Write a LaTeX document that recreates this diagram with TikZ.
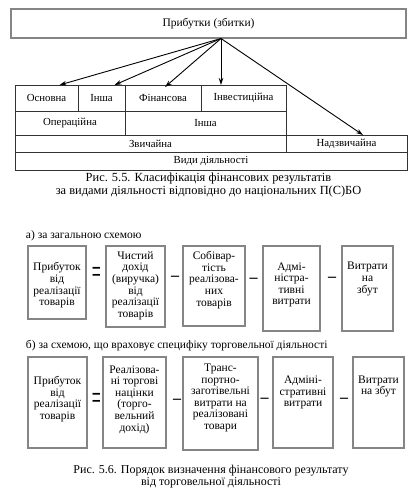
\documentclass[tikz,border=0pt]{standalone}
\usepackage{fontspec}
\setmainfont{Liberation Serif}
\usetikzlibrary{arrows.meta}
\definecolor{boxgray}{HTML}{858585}
\definecolor{linegray}{HTML}{333333}
\begin{document}
\begin{tikzpicture}[x=1pt,y=-1pt,
  every node/.style={inner sep=0pt, outer sep=0pt},
  topbox/.style={draw=boxgray, line width=1.8pt, rectangle},
  cell/.style={draw=linegray, line width=0.9pt, rectangle, font=\fontsize{10.8}{12}\selectfont},
  fbox/.style={draw=boxgray, line width=1.8pt, rectangle},
  btext/.style={align=center, font=\fontsize{11.5}{11.6}\selectfont},
  sign/.style={font=\fontsize{16}{16}\selectfont\bfseries},
  eqsign/.style={font=\fontsize{16}{16}\selectfont},
  captext/.style={align=center, font=\fontsize{12.4}{10.8}\selectfont},
  lbl/.style={anchor=west, font=\fontsize{11.5}{12}\selectfont},
  arr/.style={-{Stealth[length=7pt,width=4.5pt]}, line width=0.9pt, black}]
\useasboundingbox (0,0) rectangle (416,496);
% top box
\node[topbox, minimum width=395pt, minimum height=29pt, font=\fontsize{11.5}{12}\selectfont] (top) at (208.5,23.5) {Прибутки (збитки)};
\coordinate (src) at (221,38.5);
% table
\node[cell, minimum width=63pt, minimum height=26pt] (osn) at (46.5,98) {Основна};
\node[cell, minimum width=47pt, minimum height=26pt] (insh1) at (101.5,98) {Інша};
\node[cell, minimum width=76pt, minimum height=26pt] (fin) at (163,98) {Фінансова};
\node[cell, minimum width=85pt, minimum height=26pt] (inv) at (243.5,98) {Інвестиційна};
\node[cell, minimum width=110pt, minimum height=24pt] (oper) at (70,123) {Операційна};
\node[cell, minimum width=161pt, minimum height=24pt] (insh2) at (205.5,123) {Інша};
\node[cell, minimum width=271pt, minimum height=17pt] (zv) at (150.5,143.5) {Звичайна};
\node[cell, minimum width=121pt, minimum height=17pt] (nadz) at (346.5,143.5) {Надзвичайна};
\node[cell, minimum width=392pt, minimum height=18pt] (vydy) at (211,161) {Види діяльності};
% arrows
\draw[arr] (src) -- ([xshift=13pt]osn.north);
\draw[arr] (src) -- ([xshift=13pt]insh1.north);
\draw[arr] (src) -- ([xshift=2pt,yshift=-2pt]fin.north);
\draw[arr] (src) -- ([xshift=-22.5pt]inv.north);
\draw[arr] (src) -- ([xshift=16.5pt]nadz.north);
% caption 1
\node[captext] (cap1) at (208.5,185) {Рис. 5.5. Класифікація фінансових результатів\\за видами діяльності відповідно до національних П(С)БО};
% section a
\node[lbl] (la) at (26,235.5) {а) за загальною схемою};
\node[fbox, minimum width=58pt, minimum height=73pt] (a1) at (57,282.5) {};
\node[fbox, minimum width=59pt, minimum height=81pt] (a2) at (135.5,286.5) {};
\node[fbox, minimum width=62pt, minimum height=80pt] (a3) at (214,286) {};
\node[fbox, minimum width=57pt, minimum height=85pt] (a4) at (291.5,288.5) {};
\node[fbox, minimum width=51pt, minimum height=85pt] (a5) at (367.5,288.5) {};
\node[btext] (a1t) at (57,285.5) {Прибуток\\від\\реалізації\\товарів};
\node[btext] (a2t) at (135.5,285.5) {Чистий\\дохід\\(виручка)\\від\\реалізації\\товарів};
\node[btext] (a3t) at (214,280) {Собівар-\\тість\\реалізова-\\них\\товарів};
\node[btext] (a4t) at (291.5,285) {Адмі-\\ністра-\\тивні\\витрати};
\node[btext] (a5t) at (367.5,279) {Витрати\\на\\збут};
\node[eqsign] (ae) at (96.5,275) {\scalebox{1}[2.2]{=}};
\node[sign] (am1) at (175,278) {–};
\node[sign] (am2) at (253.5,280) {–};
\node[sign] (am3) at (332,279.5) {–};
% section b
\node[lbl] (lb) at (26,345.5) {б) за схемою, що враховує специфіку торговельної діяльності};
\node[fbox, minimum width=59pt, minimum height=91pt] (b1) at (57.5,402.5) {};
\node[fbox, minimum width=63pt, minimum height=91pt] (b2) at (134.5,402.5) {};
\node[fbox, minimum width=75pt, minimum height=93pt] (b3) at (220.5,403.5) {};
\node[fbox, minimum width=60pt, minimum height=91pt] (b4) at (303,402.5) {};
\node[fbox, minimum width=51pt, minimum height=91pt] (b5) at (378.5,402.5) {};
\node[btext] (b1t) at (57.5,399) {Прибуток\\від\\реалізації\\товарів};
\node[btext] (b2t) at (134.5,399.5) {Реалізова-\\ні торгові\\націнки\\(торго-\\вельний\\дохід)};
\node[btext] (b3t) at (220.5,398) {Транс-\\портно-\\заготівельні\\витрати на\\реалізовані\\товари};
\node[btext] (b4t) at (303,392.5) {Адміні-\\стративні\\витрати};
\node[btext] (b5t) at (378.5,386.5) {Витрати\\на збут};
\node[eqsign] (be) at (96.5,401.5) {\scalebox{1}[2.2]{=}};
\node[sign] (bm1) at (177,401) {–};
\node[sign] (bm2) at (264.5,400) {–};
\node[sign] (bm3) at (344,400) {–};
% caption 2
\node[captext, font=\fontsize{12}{12}\selectfont] (cap2) at (211,476.5) {Рис. 5.6. Порядок визначення фінансового результату\\від торговельної діяльності};
\end{tikzpicture}
\end{document}
